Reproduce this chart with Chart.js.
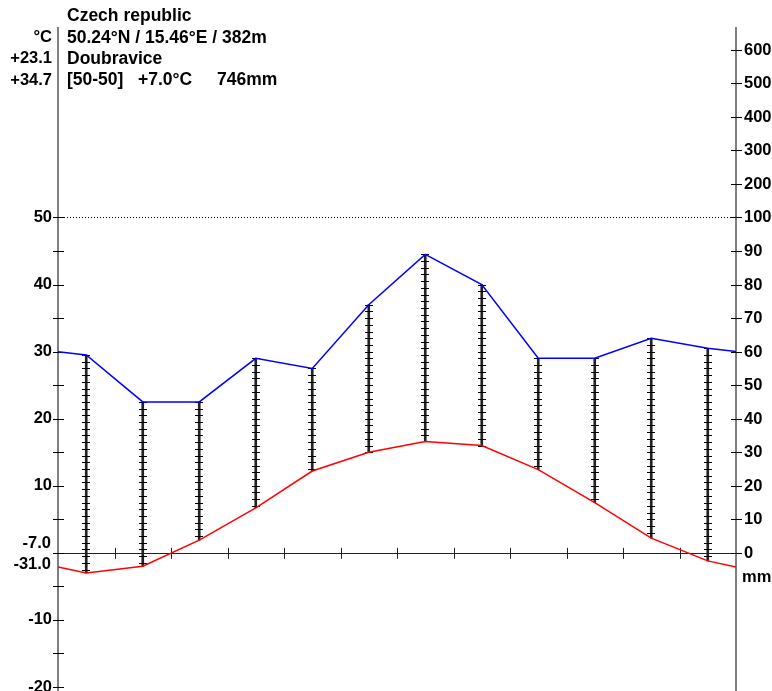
<!DOCTYPE html>
<html>
<head>
<meta charset="utf-8">
<script src="https://cdn.jsdelivr.net/npm/chart.js@4/dist/chart.umd.min.js"></script>
<style>
  html,body{margin:0;padding:0;background:#fff;}
  #wrap{width:772px;height:691px;position:relative;}
</style>
</head>
<body>
<div id="wrap"><canvas id="climChart" width="772" height="691"></canvas></div>
<script>
// monthly means
var months = [1,2,3,4,5,6,7,8,9,10,11,12];
var temp = [-3.0,-2.0,1.9,6.7,12.2,15.0,16.6,16.0,12.4,7.5,2.2,-1.2];
var precip = [59,45,45,58,55,74,89,80,58,58,64,61];
// value at the left/right border of the plot
var tempEdge = -2.1;
var precipEdge = 60;

var headerLines = ["Czech republic","50.24°N / 15.46°E / 382m","Doubravice"];
var footerParts = ["[50-50]","+7.0°C","746mm"];
var leftTicks = [50,40,30,20,10,-10,-20];
var leftExtra = ["°C","+23.1","+34.7"];
var leftMin = ["-7.0","-31.0"];
var rightTicks = [0,10,20,30,40,50,60,70,80,90,100,200,300,400,500,600];

// mm -> degree scale (2mm = 1°C up to 100mm, then 20mm = 1°C)
function mm2t(p){ return p<=100 ? p/2 : 50+(p-100)/20; }

var tempPts=[{x:0,y:tempEdge}], precPts=[{x:0,y:mm2t(precipEdge)}], humid=[];
for(var i=0;i<months.length;i++){
  tempPts.push({x:i+0.5,y:temp[i]});
  precPts.push({x:i+0.5,y:mm2t(precip[i])});
  humid.push({x:i+0.5,y:[temp[i],mm2t(precip[i])]});
}
tempPts.push({x:12,y:tempEdge});
precPts.push({x:12,y:mm2t(precipEdge)});

var FONT = 'bold 16.5px "Liberation Sans", Arial, sans-serif';
var HFONT = 'bold 17.5px "Liberation Sans", Arial, sans-serif';

var axesPlugin = {
  id:'walterAxes',
  beforeDatasetsDraw:function(chart){
    var c=chart.ctx, xs=chart.scales.x, ys=chart.scales.y, a=chart.chartArea;
    var x0=xs.getPixelForValue(0), x1=xs.getPixelForValue(12), yz=ys.getPixelForValue(0);
    c.save();
    // 50°C / 100mm dotted line
    var y50=ys.getPixelForValue(50);
    c.strokeStyle='#000'; c.lineWidth=1; c.setLineDash([1,2]);
    c.beginPath(); c.moveTo(x0,Math.round(y50)+0.5); c.lineTo(x1,Math.round(y50)+0.5); c.stroke();
    c.setLineDash([]);
    // zero line
    c.strokeStyle='#222';
    c.beginPath(); c.moveTo(x0,Math.round(yz)+0.5); c.lineTo(x1,Math.round(yz)+0.5); c.stroke();
    for(var m=1;m<12;m++){
      var xm=Math.round(xs.getPixelForValue(m))+0.5;
      c.beginPath(); c.moveTo(xm,yz-5); c.lineTo(xm,yz+6); c.stroke();
    }
    // side axes
    c.strokeStyle='#555'; c.lineWidth=1.5;
    c.beginPath(); c.moveTo(x0,a.top); c.lineTo(x0,a.bottom); c.stroke();
    c.beginPath(); c.moveTo(x1,a.top); c.lineTo(x1,a.bottom); c.stroke();
    c.strokeStyle='#000'; c.lineWidth=1;
    for(var t=-20;t<=50;t+=5){
      var yt=Math.round(ys.getPixelForValue(t))+0.5;
      c.beginPath(); c.moveTo(x0-5,yt); c.lineTo(x0+6,yt); c.stroke();
    }
    c.font=FONT; c.fillStyle='#000'; c.textBaseline='middle'; c.textAlign='right';
    leftTicks.forEach(function(v){ c.fillText(String(v),x0-6,ys.getPixelForValue(v)); });
    c.fillText(leftExtra[0],x0-6,37);
    c.fillText(leftExtra[1],x0-6,58);
    c.fillText(leftExtra[2],x0-6,80);
    c.fillText(leftMin[0],x0-7,yz-9);
    c.fillText(leftMin[1],x0-7,yz+12);
    c.textAlign='left';
    rightTicks.forEach(function(v){
      var yt=Math.round(ys.getPixelForValue(mm2t(v)))+0.5;
      c.beginPath(); c.moveTo(x1-5,yt); c.lineTo(x1+6,yt); c.stroke();
      c.fillText(String(v),x1+8,yt);
    });
    c.fillText("mm",x1+6,yz+25);
    // header
    c.font=HFONT;
    c.fillText(headerLines[0],67,16);
    c.fillText(headerLines[1],67,38);
    c.fillText(headerLines[2],67,59);
    c.fillText(footerParts[0],67,80);
    c.fillText(footerParts[1],138,80);
    c.fillText(footerParts[2],217,80);
    c.restore();
  },
  afterDatasetDraw:function(chart,args){
    if(args.index!==0) return;
    var c=chart.ctx, xs=chart.scales.x, ys=chart.scales.y;
    c.save(); c.strokeStyle='#000'; c.lineWidth=1;
    humid.forEach(function(d){
      var lo=Math.min(d.y[0],d.y[1]), hi=Math.max(d.y[0],d.y[1]);
      var xp=Math.round(xs.getPixelForValue(d.x));
      for(var v=hi; v>=lo-0.01; v-=1){
        var yp=Math.round(ys.getPixelForValue(v))+0.5;
        c.beginPath(); c.moveTo(xp-4,yp); c.lineTo(xp+4,yp); c.stroke();
      }
    });
    c.restore();
  }
};

var ctx=document.getElementById('climChart');
var chart=new Chart(ctx,{
  data:{
    datasets:[
      {type:'bar',label:'humid',data:humid,backgroundColor:'#222',borderWidth:0,
       barThickness:2,grouped:false,order:3},
      {type:'line',label:'precip',data:precPts,borderColor:'#0000ff',borderWidth:1.5,
       pointRadius:0,tension:0,order:1},
      {type:'line',label:'temp',data:tempPts,borderColor:'#ff0000',borderWidth:1.5,
       pointRadius:0,tension:0,order:2}
    ]
  },
  options:{
    responsive:false,
    animation:false,
    layout:{padding:{left:58,right:36,top:27,bottom:0}},
    plugins:{legend:{display:false},tooltip:{enabled:false}},
    scales:{
      x:{type:'linear',min:0,max:12,offset:false,display:false},
      y:{type:'linear',min:-20.6,max:78.4,display:false}
    }
  },
  plugins:[axesPlugin]
});
</script>
</body>
</html>
